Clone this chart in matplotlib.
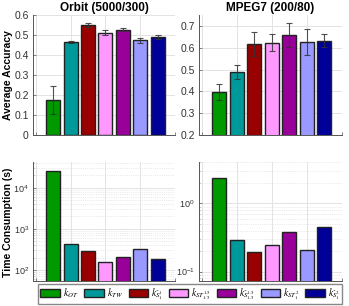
import numpy as np
import matplotlib
matplotlib.use("Agg")
import matplotlib.pyplot as plt
from matplotlib.patches import Patch

plt.rcParams['font.family'] = ['Liberation Sans', 'DejaVu Sans']
plt.rcParams['mathtext.fontset'] = 'stix'

# dane
methods = [r'$k_{OT}$', r'$k_{TW}$', r'$k_{\hat{S}^1_1}$', r'$k_{ST^{1.5}_{1.5}}$',
           r'$k_{\hat{S}^{1.5}_{1.5}}$', r'$k_{ST^2_1}$', r'$k_{\hat{S}^2_1}$']
colors = ['#009900', '#009999', '#990000', '#ff99ff', '#990099', '#9999ff', '#000099']

orbit_acc = [0.175, 0.465, 0.550, 0.512, 0.527, 0.473, 0.490]
orbit_err = [0.068, 0.007, 0.010, 0.013, 0.009, 0.013, 0.010]
mpeg_acc = [0.397, 0.489, 0.616, 0.622, 0.656, 0.627, 0.633]
mpeg_err = [0.035, 0.032, 0.055, 0.039, 0.055, 0.061, 0.032]

orbit_time = [25900, 437, 284, 159, 203, 318, 188]
mpeg_time = [2.32, 0.29, 0.192, 0.248, 0.377, 0.205, 0.451]

titles = ['Orbit (5000/300)', 'MPEG7 (200/80)']

x = np.arange(1, len(methods) + 1)

fig = plt.figure(figsize=(3.49, 3.06), dpi=100)
ax_tl = fig.add_axes([0.0946, 0.559, 0.407, 0.392])
ax_tr = fig.add_axes([0.570, 0.559, 0.410, 0.392])
ax_bl = fig.add_axes([0.0946, 0.082, 0.407, 0.389])
ax_br = fig.add_axes([0.570, 0.082, 0.410, 0.389])


def style(ax, size=7.5):
    for s in ['top', 'right']:
        ax.spines[s].set_visible(False)
    for s in ['left', 'bottom']:
        ax.spines[s].set_color('#555555')
        ax.spines[s].set_linewidth(0.7)
    ax.set_xlim(-0.16, 8)
    ax.set_xticks([0, 2, 4, 6, 8])
    ax.set_xticklabels([])
    ax.tick_params(direction='in', length=2, width=0.5, colors='#555555',
                   labelcolor='#333333', labelsize=size, pad=3)
    ax.tick_params(which='minor', direction='in', length=1, width=0.4, colors='#555555')
    ax.grid(True, which='major', color='#e3e3e3', lw=0.7)
    ax.set_axisbelow(True)


for ax, acc, err, title in [(ax_tl, orbit_acc, orbit_err, titles[0]),
                            (ax_tr, mpeg_acc, mpeg_err, titles[1])]:
    style(ax)
    ax.bar(x, acc, width=0.8, color=colors, edgecolor='#222222', linewidth=1.0)
    ax.errorbar(x, acc, yerr=err, fmt='none', ecolor='#333333', elinewidth=0.8,
                capsize=2, capthick=0.8, alpha=0.85)
    ax.set_title(title, fontsize=8.5, fontweight='bold', pad=3)

ax_tl.set_ylim(0, 0.6)
ax_tl.set_yticks([0, 0.1, 0.2, 0.3, 0.4, 0.5, 0.6])
ax_tl.set_yticklabels(['0', '0.1', '0.2', '0.3', '0.4', '0.5', '0.6'])
ax_tr.set_ylim(0.2, 0.75)
ax_tr.set_yticks([0.2, 0.3, 0.4, 0.5, 0.6, 0.7])

for ax, t in [(ax_bl, orbit_time), (ax_br, mpeg_time)]:
    ax.set_yscale('log')
    style(ax, size=6.5)
    ax.grid(True, which='minor', axis='y', color='#d8d8d8', lw=0.5, ls=':')
    ax.bar(x, t, width=0.8, color=colors, edgecolor='#222222', linewidth=1.0)

ax_bl.set_ylim(54, 42700)
ax_br.set_ylim(0.073, 4.06)

# etykiety osi y ustawione recznie, zeby nie wyjezdzaly poza obraz
fig.text(0.022, 0.755, 'Average Accuracy', rotation=90, ha='center', va='center',
         fontsize=7.5, fontweight='bold')
fig.text(0.022, 0.275, 'Time Consumption (s)', rotation=90, ha='center', va='center',
         fontsize=7.5, fontweight='bold')

handles = [Patch(facecolor=c, edgecolor='#222222', linewidth=1.0) for c in colors]
fig.legend(handles, methods, loc='center', bbox_to_anchor=(0.545, 0.039), ncol=7,
           fontsize=7, handlelength=2.0, handleheight=0.9, handletextpad=0.3,
           columnspacing=0.6, borderpad=0.25, fancybox=False, edgecolor='#888888',
           framealpha=1)

fig.savefig('out.png', dpi=100)
